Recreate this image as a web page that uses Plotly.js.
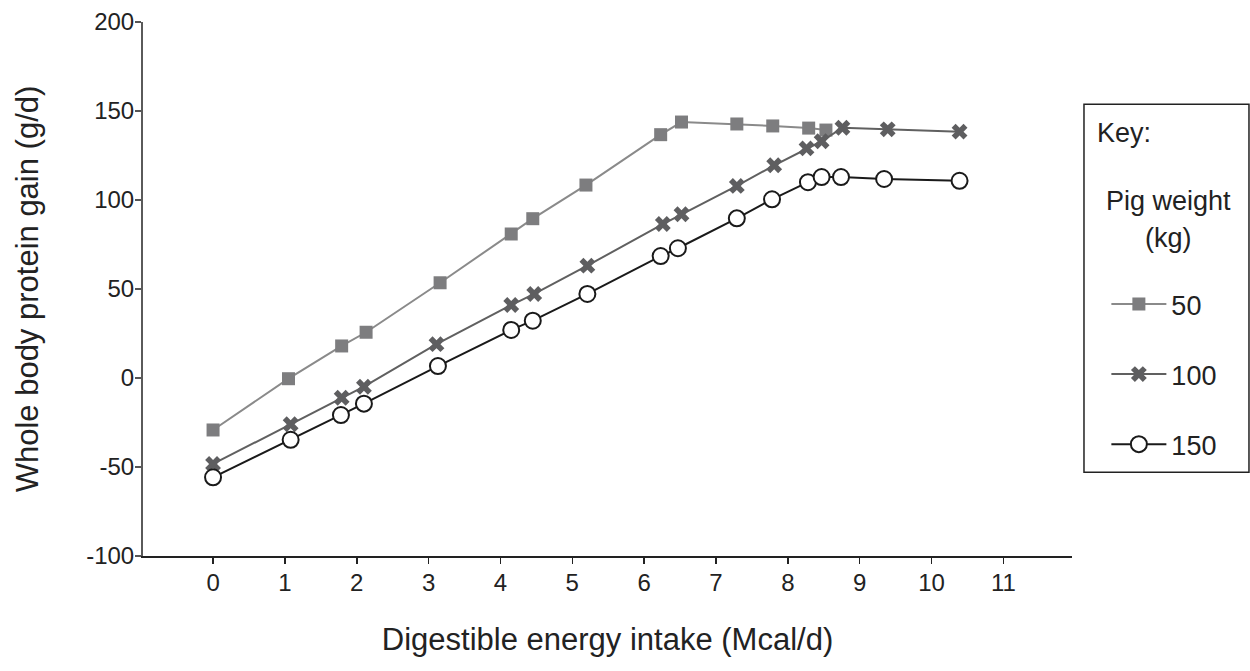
<!DOCTYPE html>
<html>
<head>
<meta charset="utf-8">
<script src="https://cdn.plot.ly/plotly-3.0.1.min.js"></script>
<style>html,body{margin:0;padding:0;background:#fff;}#chart{width:1250px;height:671px;}</style>
</head>
<body>
<div id="chart"></div>
<script>
// Digestible energy intake (Mcal/d)
var x50  = [0, 1.05, 1.79, 2.13, 3.16, 4.15, 4.45, 5.19, 6.23, 6.52, 7.29, 7.79, 8.29, 8.53];
var y50  = [-29.2, -0.4, 18, 25.7, 53.5, 80.9, 89.5, 108.4, 136.7, 143.8, 142.7, 141.6, 140.4, 139.3];

var x100 = [0, 1.08, 1.79, 2.10, 3.11, 4.15, 4.47, 5.21, 6.26, 6.52, 7.29, 7.81, 8.26, 8.47, 8.76, 9.39, 10.39];
var y100 = [-48.3, -26, -11.1, -4.9, 19, 41, 47.2, 63.1, 86.5, 92, 107.9, 119.5, 129, 133, 140.6, 139.7, 138.4];

var x150 = [0, 1.08, 1.78, 2.10, 3.13, 4.15, 4.45, 5.21, 6.23, 6.47, 7.29, 7.78, 8.28, 8.47, 8.74, 9.34, 10.39];
var y150 = [-55.8, -34.7, -20.8, -14.4, 6.7, 27, 32.2, 47.2, 68.5, 72.9, 89.7, 100.4, 110, 112.9, 112.9, 111.8, 110.8];

var seriesNames = ['50', '100', '150'];
var xTicks = [0, 1, 2, 3, 4, 5, 6, 7, 8, 9, 10, 11];
var yTickVals = [-100, -50, 0, 50, 100, 150, 200];
var yTickText = ['-100', '-50', '0', '50', '100', '150', '200'];

var FONT = 'Liberation Sans, Arial, sans-serif';

var traces = [
  {x: x50, y: y50, name: seriesNames[0], type: 'scatter', mode: 'lines+markers',
   legendgroup: 'a',
   line: {color: '#8a8a8a', width: 2},
   marker: {symbol: 'square', size: 13, color: '#7d7d7f', line: {width: 0}}},
  {x: x100, y: y100, name: seriesNames[1], type: 'scatter', mode: 'lines+markers',
   legendgroup: 'b',
   line: {color: '#606060', width: 2},
   marker: {symbol: 'x', size: 14, color: '#5e5e60', line: {width: 0}}},
  {x: x150, y: y150, name: seriesNames[2], type: 'scatter', mode: 'lines+markers',
   legendgroup: 'c',
   line: {color: '#1a1a1a', width: 2},
   marker: {symbol: 'circle', size: 16, color: '#ffffff', line: {color: '#1a1a1a', width: 2}}}
];

var layout = {
  width: 1250, height: 671,
  margin: {l: 143, r: 178, t: 22, b: 115},
  paper_bgcolor: '#ffffff', plot_bgcolor: '#ffffff',
  font: {family: FONT, color: '#222222'},
  showlegend: true,
  legend: {
    x: 1.037, xanchor: 'left', y: 0.517, yanchor: 'top',
    font: {family: FONT, size: 27, color: '#222222'},
    bgcolor: 'rgba(0,0,0,0)', borderwidth: 0,
    itemwidth: 55, traceorder: 'grouped', tracegroupgap: 32
  },
  xaxis: {
    range: [-0.975, 11.955],
    tickvals: xTicks,
    ticks: 'outside', ticklen: 6, tickwidth: 1.5, tickcolor: '#222',
    ticklabelstandoff: -2,
    showline: true, linecolor: '#222', linewidth: 2,
    showgrid: false, zeroline: false,
    tickfont: {family: FONT, size: 24, color: '#222'},
    title: {text: 'Digestible energy intake (Mcal/d)', font: {family: FONT, size: 31, color: '#222'}, standoff: 34}
  },
  yaxis: {
    range: [-100, 200],
    tickvals: yTickVals, ticktext: yTickText,
    ticks: 'outside', ticklen: 6, tickwidth: 1.5, tickcolor: '#555',
    ticklabelstandoff: -4,
    showline: true, linecolor: '#5a5a5a', linewidth: 2,
    showgrid: false, zeroline: false,
    tickfont: {family: FONT, size: 24, color: '#222'},
    title: {text: 'Whole body protein gain (g/d)', font: {family: FONT, size: 31, color: '#222'}, standoff: 38}
  },
  shapes: [
    {type: 'rect', xref: 'paper', yref: 'paper', x0: 1.0129, x1: 1.1905, y0: 0.157, y1: 0.846,
     line: {color: '#222', width: 1.5}, fillcolor: 'rgba(0,0,0,0)'}
  ],
  annotations: [
    {xref: 'paper', yref: 'paper', x: 1.0245, y: 0.793, xanchor: 'left', yanchor: 'middle',
     text: 'Key:', showarrow: false, font: {family: FONT, size: 27, color: '#222'}},
    {xref: 'paper', yref: 'paper', x: 1.1035, y: 0.665, xanchor: 'center', yanchor: 'middle',
     text: 'Pig weight', showarrow: false, font: {family: FONT, size: 27, color: '#222'}},
    {xref: 'paper', yref: 'paper', x: 1.1035, y: 0.596, xanchor: 'center', yanchor: 'middle',
     text: '(kg)', showarrow: false, font: {family: FONT, size: 27, color: '#222'}}
  ]
};

Plotly.newPlot('chart', traces, layout, {displayModeBar: false, staticPlot: true});
</script>
</body>
</html>
